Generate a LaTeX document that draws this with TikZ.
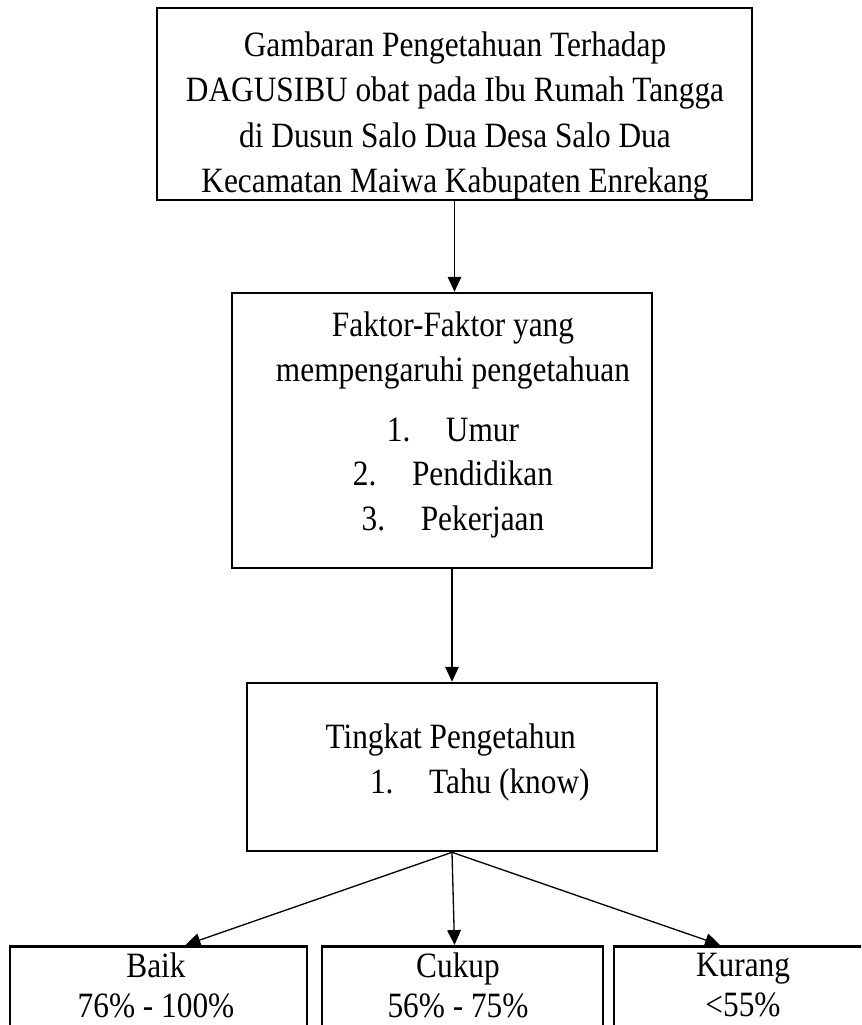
\documentclass[tikz,border=0pt]{standalone}
\usepackage{fontspec}
\setmainfont{Liberation Serif}[FakeStretch=0.88]
\usetikzlibrary{arrows.meta}
\newcommand{\pu}{0.382pt}

\begin{document}
\begin{tikzpicture}[x=0.382pt,y=-0.382pt,
    box/.style={draw,line width=1pt,inner sep=0pt},
    txt/.style={inner sep=0pt,font=\fontsize{13.6}{#1}\selectfont},
    conn/.style={line width=0.5pt,-{Triangle[length=5.7pt,width=5.2pt]}}]
    \useasboundingbox (0,0) rectangle (861,1025);
    \clip (0,0) rectangle (861,1025);

    \node[box,minimum width=595*\pu,minimum height=192*\pu] (judul) at (454.5,104) {};
    \node[txt=17.2pt,align=center] (judultxt) at (455,116)
      {Gambaran Pengetahuan Terhadap\\ DAGUSIBU obat pada Ibu Rumah Tangga\\ di Dusun Salo Dua Desa Salo Dua\\ Kecamatan Maiwa Kabupaten Enrekang};

    \node[box,minimum width=420*\pu,minimum height=275*\pu] (faktor) at (442,430.5) {};
    \node[txt=17pt,align=center] (faktortxt) at (453,425)
      {Faktor-Faktor yang\\ mempengaruhi pengetahuan\\[6pt] 1.\quad Umur\\ 2.\quad Pendidikan\\ 3.\quad Pekerjaan};

    \node[box,minimum width=410*\pu,minimum height=168*\pu] (tingkat) at (452,767) {};
    \node[txt=17.2pt,align=left,anchor=west] (tingkattxt) at (325,762)
      {Tingkat Pengetahun\\ \hspace*{17pt}1.\quad Tahu (know)};

    % kategori
    \node[box,anchor=north,minimum width=297*\pu,minimum height=160*\pu] (baik) at (158.5,945) {};
    \node[box,anchor=north,minimum width=281*\pu,minimum height=160*\pu] (cukup) at (462.5,945) {};
    \node[box,anchor=north,minimum width=256*\pu,minimum height=160*\pu] (kurang) at (742,945) {};
    \node[txt=15.3pt,align=center] (baiktxt) at (156,985) {Baik\\ 76\% - 100\%};
    \node[txt=15.3pt,align=center] (cukuptxt) at (458,985) {Cukup\\ 56\% - 75\%};
    \node[txt=15.3pt,align=center] (kurangtxt) at (743,985) {Kurang\\ <55\%};

    \draw[conn] (judul.south) -- (judul.south |- faktor.north);
    \draw[conn] (faktor.south -| tingkat.north) -- (tingkat.north);
    \draw[conn] (tingkat.south) -- ([xshift=27*\pu]baik.north);
    \draw[conn] (tingkat.south) -- ([xshift=-8*\pu]cukup.north);
    \draw[conn] (tingkat.south) -- ([xshift=-22*\pu]kurang.north);
\end{tikzpicture}
\end{document}
